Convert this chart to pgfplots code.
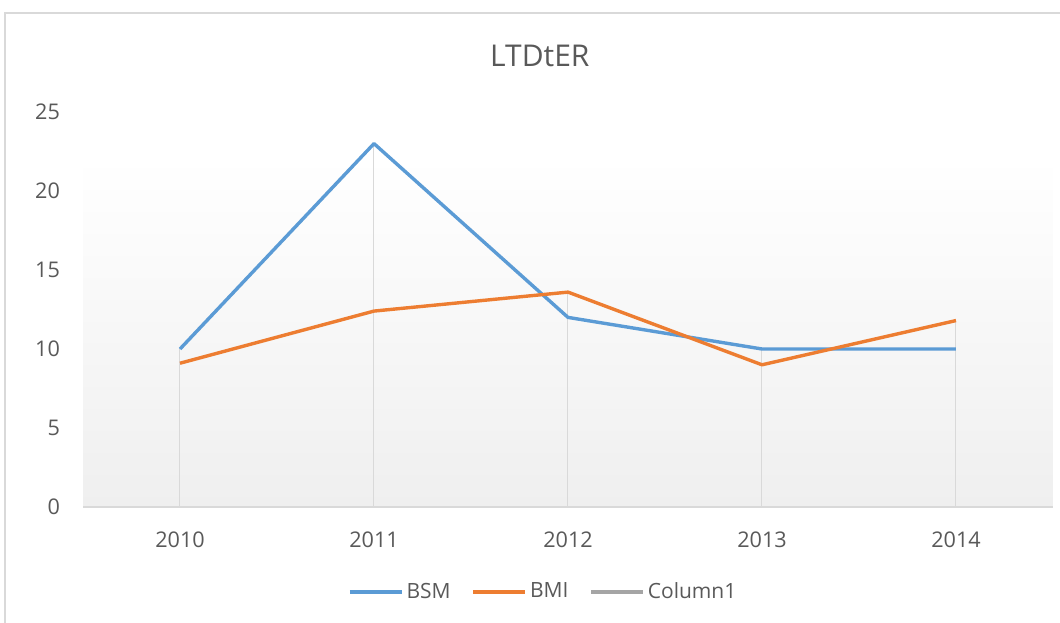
\documentclass[border=0pt]{standalone}
\usepackage{pgfplots}
\pgfplotsset{compat=1.18}
\usepackage{fontspec}
\setmainfont{Open Sans}
\definecolor{bsm}{HTML}{5B9BD5}
\definecolor{bmi}{HTML}{ED7D31}
\definecolor{col1}{HTML}{A5A5A5}
\definecolor{txt}{HTML}{595959}
\definecolor{gridc}{HTML}{D9D9D9}
\definecolor{bgbot}{HTML}{EFEFEF}
\begin{document}
\begin{tikzpicture}[x=1pt,y=1pt]
\useasboundingbox (0,0) rectangle (530,311);
\draw[gridc, line width=1pt] (2.5,-20) rectangle (560,304.5);
\begin{axis}[
  at={(41.5pt,57.5pt)}, anchor=south west,
  scale only axis, width=485pt, height=197.5pt,
  xmin=-0.5, xmax=4.5, ymin=0, ymax=25,
  xtick={0,1,2,3,4}, xticklabels={2010,2011,2012,2013,2014},
  ytick={0,5,10,15,20,25},
  major tick length=0pt,
  axis x line*=bottom, axis y line*=left,
  x axis line style={draw=gridc, line width=0.8pt},
  y axis line style={draw=none},
  axis on top=true,
  /pgf/number format/assume math mode=true,
  tick label style={font=\fontsize{10.8}{12}\selectfont, text=txt},
  xticklabel style={yshift=-9pt},
  yticklabel style={xshift=-8pt},
  title={LTDtER},
  title style={at={(0.471,1.112)}, anchor=center, yshift=0pt, font=\fontsize{15}{18}\selectfont, text=txt},
  legend style={at={(0.475,-0.215)}, anchor=center, draw=none, fill=none,
    legend columns=3, font=\fontsize{10.5}{12}\selectfont, text=txt,
    /tikz/every even column/.append style={column sep=9pt},
    nodes={inner sep=1.5pt}},
  legend image code/.code={\draw[#1, line width=1.7pt] (0pt,0pt) -- (26pt,0pt);},
]
\fill[top color=white, bottom color=bgbot] (axis cs:-0.5,0) rectangle (axis cs:4.5,22.15);
\addplot[ycomb, draw=gridc, line width=0.5pt, mark=none, forget plot]
  coordinates {(0,10) (1,23) (2,13.6) (3,10) (4,11.8)};
\addplot[bsm, line width=1.7pt, line join=round, mark=none]
  coordinates {(0,10) (1,23) (2,12) (3,10) (4,10)};
\addlegendentry{BSM}
\addplot[bmi, line width=1.7pt, line join=round, mark=none]
  coordinates {(0,9.1) (1,12.4) (2,13.6) (3,9.0) (4,11.8)};
\addlegendentry{BMI}
\addlegendimage{col1}
\addlegendentry{Column1}
\end{axis}
\end{tikzpicture}
\end{document}
